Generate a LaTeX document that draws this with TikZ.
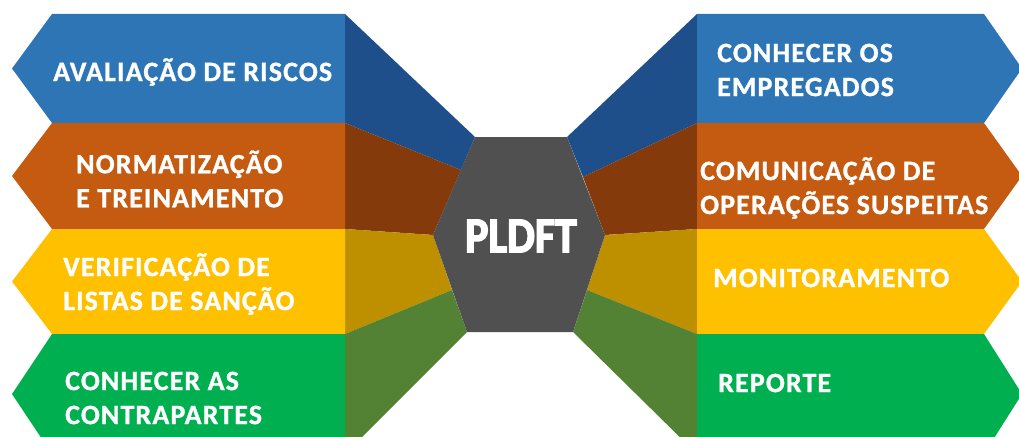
\documentclass[tikz,border=0pt]{standalone}
\usepackage{fontspec}
\setmainfont{Carlito}
\newfontfamily\rotulofonte[LetterSpace=4,FakeBold=1]{Carlito}
\newfontfamily\centrofonte[FakeBold=3]{Carlito}
\usepackage{tikz}
\definecolor{AzulFrente}{HTML}{2E75B6}
\definecolor{AzulLado}{HTML}{1F4F8A}
\definecolor{LaranjaFrente}{HTML}{C55A11}
\definecolor{LaranjaLado}{HTML}{853A0C}
\definecolor{AmareloFrente}{HTML}{FFC000}
\definecolor{AmareloLado}{HTML}{BE9000}
\definecolor{VerdeFrente}{HTML}{00B050}
\definecolor{VerdeLado}{HTML}{548235}
\definecolor{Hexagono}{HTML}{505050}
\tikzset{/pldft/rotulo/.style={
	anchor=west, align=left, inner sep=0, text=white, font=\rotulofonte\bfseries\fontsize{28}{34}\selectfont
}}
\tikzset{/pldft/centro/.style={
	inner sep=0, text=white, font=\centrofonte\bfseries\fontsize{50}{50}\selectfont
}}
\begin{document}
\begin{tikzpicture}[x=1pt, y=-1pt]
			\useasboundingbox (0,0) rectangle (1019,436);
			\clip (0,0) rectangle (1019,436);
			\path (475,137) coordinate (Hex1) (567,137) coordinate (Hex2) (605,235) coordinate (Hex3)
				(573,332) coordinate (Hex4) (467,332) coordinate (Hex5) (433,235) coordinate (Hex6);
			\path (461,170) coordinate (HexE1) (452,290) coordinate (HexE2);
			\path (583,177) coordinate (HexD1) (587,290) coordinate (HexD2);
			\fill[AzulLado] (345,14) -- (Hex1) -- (HexE1) -- (345,123) -- cycle;
			\fill[LaranjaLado] (345,123) -- (HexE1) -- (Hex6) -- (345,229) -- cycle;
			\fill[AmareloLado] (345,229) -- (Hex6) -- (HexE2) -- (345,334) -- cycle;
			\fill[VerdeLado] (345,334) -- (HexE2) -- (Hex5) -- (345,454) -- cycle;
			\fill[AzulLado] (697,14) -- (Hex2) -- (HexD1) -- (697,123) -- cycle;
			\fill[LaranjaLado] (697,123) -- (HexD1) -- (Hex3) -- (697,229) -- cycle;
			\fill[AmareloLado] (697,229) -- (Hex3) -- (HexD2) -- (697,334) -- cycle;
			\fill[VerdeLado] (697,334) -- (HexD2) -- (Hex4) -- (697,454) -- cycle;
			\fill[AzulFrente] (345,14) -- (52,14) -- (12,68.5) -- (52,123) -- (345,123) -- cycle;
			\fill[LaranjaFrente] (345,123) -- (52,123) -- (12,176) -- (52,229) -- (345,229) -- cycle;
			\fill[AmareloFrente] (345,229) -- (52,229) -- (12,281.5) -- (52,334) -- (345,334) -- cycle;
			\fill[VerdeFrente] (345,334) -- (52,334) -- (12,394) -- (52,454) -- (345,454) -- cycle;
			\fill[AzulFrente] (697,14) -- (984,14) -- (1022,68.5) -- (984,123) -- (697,123) -- cycle;
			\fill[LaranjaFrente] (697,123) -- (984,123) -- (1022,176) -- (984,229) -- (697,229) -- cycle;
			\fill[AmareloFrente] (697,229) -- (984,229) -- (1022,281.5) -- (984,334) -- (697,334) -- cycle;
			\fill[VerdeFrente] (697,334) -- (984,334) -- (1022,394) -- (984,454) -- (697,454) -- cycle;
			\fill[Hexagono] (Hex1) -- (Hex2) -- (Hex3) -- (Hex4) -- (Hex5) -- (Hex6) -- cycle;
			\path (521,236) node[/pldft/centro] (Pldft) {\scalebox{0.88}[1]{PLDFT}};
			\path (53,72) node[/pldft/rotulo] (Riscos) {AVALIAÇÃO DE RISCOS};
			\path (76,179) node[/pldft/rotulo] (Normas) {NORMATIZAÇÃO\\E TREINAMENTO};
			\path (63,284) node[/pldft/rotulo] (Sancao) {VERIFICAÇÃO DE\\LISTAS DE SANÇÃO};
			\path (65,398) node[/pldft/rotulo] (Contrapartes) {CONHECER AS\\CONTRAPARTES};
			\path (717,70) node[/pldft/rotulo] (Empregados) {CONHECER OS\\EMPREGADOS};
			\path (700,188) node[/pldft/rotulo] (Suspeitas) {COMUNICAÇÃO DE\\OPERAÇÕES SUSPEITAS};
			\path (713,278) node[/pldft/rotulo] (Monitor) {MONITORAMENTO};
			\path (718,383) node[/pldft/rotulo] (Reporte) {REPORTE};
		\end{tikzpicture}
\end{document}
